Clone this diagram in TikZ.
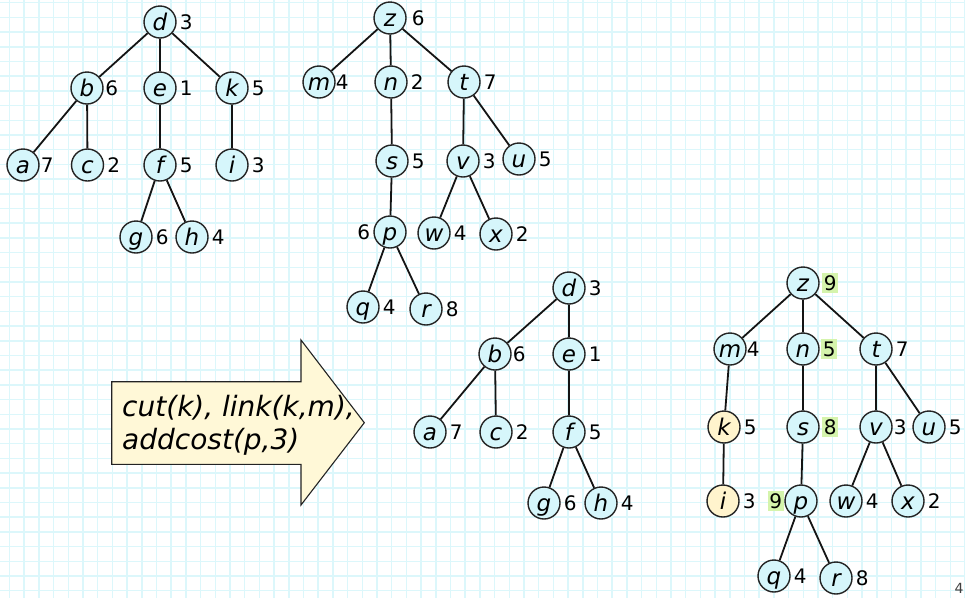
\documentclass[tikz,border=0pt]{standalone}
\usepackage{fontspec}
\setmainfont{DejaVu Sans}

\definecolor{gridcol}{RGB}{220,247,251}
\definecolor{nodefill}{RGB}{214,246,251}
\definecolor{nodeline}{RGB}{35,35,35}
\definecolor{nodeyellow}{RGB}{255,244,205}
\definecolor{arrowfill}{RGB}{255,248,215}
\definecolor{hlgreen}{RGB}{213,244,172}
\definecolor{edgecol}{RGB}{20,20,20}

\tikzset{
  vert/.style={circle, draw=nodeline, line width=1.4pt, fill=nodefill,
    minimum size=32pt, inner sep=0pt,
    font=\fontsize{23}{23}\selectfont\itshape,
    text height=17pt, text depth=0pt},
  yvert/.style={vert, fill=nodeyellow},
  treeline/.style={line width=1.8pt, draw=edgecol},
  gridline/.style={line width=1.5pt, draw=gridcol},
  every label/.style={font=\fontsize{20}{20}\selectfont, inner sep=0pt, text=black},
  label distance=3pt,
  hl/.style={fill=hlgreen, inner xsep=1.5pt, inner ysep=2.5pt},
  cmdtext/.style={anchor=base west, inner sep=0pt,
    font=\fontsize{28}{34}\selectfont\itshape},
}

\begin{document}
\begin{tikzpicture}[x=1pt, y=-1pt]
  \useasboundingbox (0,0) rectangle (965,598);
  \fill[white] (0,0) rectangle (965,598);

  % squared paper
  \foreach \i in {0,...,65}
    \draw[gridline] ({9.5+14.7*\i},0) -- ({9.5+14.7*\i},598);
  \foreach \j in {0,...,40}
    \draw[gridline] (0,{2.7+14.7*\j}) -- (965,{2.7+14.7*\j});

  % first tree (rooted at d)
  \node[vert, label={right:3}] (Ad) at (160,22) {d};
  \node[vert, label={[label distance=1.5pt]right:6}] (Ab) at (87,88) {b};
  \node[vert, label={right:1}] (Ae) at (160,88) {e};
  \node[vert, label={right:5}] (Ak) at (232,88) {k};
  \node[vert, label={[label distance=1pt]right:7}] (Aa) at (23,165) {a};
  \node[vert, label={right:2}] (Ac) at (87.5,165) {c};
  \node[vert, label={right:5}] (Af) at (160,165) {f};
  \node[vert, label={right:3}] (Ai) at (232,165) {i};
  \node[vert, label={right:6}] (Ag) at (136,237) {g};
  \node[vert, label={right:4}] (Ah) at (192,237) {h};
  \draw[treeline] (Ad) -- (Ab) (Ad) -- (Ae) (Ad) -- (Ak)
                  (Ab) -- (Aa) (Ab) -- (Ac) (Ae) -- (Af)
                  (Af) -- (Ag) (Af) -- (Ah) (Ak) -- (Ai);

  % second tree (rooted at z)
  \node[vert, label={[label distance=5pt]right:6}] (Bz) at (390,18) {z};
  \node[vert, label={[label distance=0pt]right:4}] (Bm) at (319,82) {m};
  \node[vert, label={right:2}] (Bn) at (391,82) {n};
  \node[vert, label={right:7}] (Bt) at (464,82) {t};
  \node[vert, label={right:5}] (Bs) at (392,161) {s};
  \node[vert, label={right:3}] (Bv) at (463,161) {v};
  \node[vert, label={right:5}] (Bu) at (519,159) {u};
  \node[vert, label={left:6}] (Bp) at (390,232) {p};
  \node[vert, label={right:4}] (Bw) at (434,233) {w};
  \node[vert, label={right:2}] (Bx) at (496,234) {x};
  \node[vert, label={right:4}] (Bq) at (363,307) {q};
  \node[vert, label={right:8}] (Br) at (426,309) {r};
  \draw[treeline] (Bz) -- (Bm) (Bz) -- (Bn) (Bz) -- (Bt)
                  (Bn) -- (Bs) (Bs) -- (Bp) (Bp) -- (Bq) (Bp) -- (Br)
                  (Bt) -- (Bv) (Bt) -- (Bu) (Bv) -- (Bw) (Bv) -- (Bx);

  % operation arrow
  \draw[line width=1.1pt, draw=nodeline, fill=arrowfill, line join=miter]
    (111.7,381.7) -- (301,381.7) -- (301,340) -- (364.3,422.7)
    -- (301,505) -- (301,464.3) -- (111.7,464.3) -- cycle;
  \node[cmdtext] (cmdA) at (122,416) {cut(k), link(k,m),};
  \node[cmdtext] (cmdB) at (122,449) {addcost(p,3)};

  % third tree (d after the cut)
  \node[vert, label={right:3}] (Cd) at (569,288) {d};
  \node[vert, label={[label distance=1pt]right:6}] (Cb) at (495,354) {b};
  \node[vert, label={right:1}] (Ce) at (569,354) {e};
  \node[vert, label={right:7}] (Ca) at (430,432) {a};
  \node[vert, label={right:2}] (Cc) at (496,432) {c};
  \node[vert, label={right:5}] (Cf) at (569,432) {f};
  \node[vert, label={right:6}] (Cg) at (544,503) {g};
  \node[vert, label={right:4}] (Ch) at (601,503) {h};
  \draw[treeline] (Cd) -- (Cb) (Cd) -- (Ce) (Cb) -- (Ca) (Cb) -- (Cc)
                  (Ce) -- (Cf) (Cf) -- (Cg) (Cf) -- (Ch);

  % fourth tree (z after link and addcost)
  \node[vert, label={[hl, label distance=2.5pt]right:9}] (Dz) at (803,283) {z};
  \node[vert, label={[label distance=0pt]right:4}] (Dm) at (730,349) {m};
  \node[vert, label={[hl, label distance=1.5pt]right:5}] (Dn) at (803,349) {n};
  \node[vert, label={right:7}] (Dt) at (876,349) {t};
  \node[yvert, label={right:5}] (Dk) at (724,427) {k};
  \node[vert, label={[hl, label distance=2.5pt]right:8}] (Ds) at (803,427) {s};
  \node[vert, label={[label distance=1pt]right:3}] (Dv) at (876,427) {v};
  \node[vert, label={right:5}] (Du) at (929,427) {u};
  \node[yvert, label={right:3}] (Di) at (723,501) {i};
  \node[vert, label={[hl, label distance=0.5pt]left:9}] (Dp) at (801,501) {p};
  \node[vert, label={right:4}] (Dw) at (846,501) {w};
  \node[vert, label={right:2}] (Dx) at (908,501) {x};
  \node[vert, label={right:4}] (Dq) at (774,576) {q};
  \node[vert, label={right:8}] (Dr) at (836,578) {r};
  \draw[treeline] (Dz) -- (Dm) (Dz) -- (Dn) (Dz) -- (Dt)
                  (Dm) -- (Dk) (Dk) -- (Di)
                  (Dn) -- (Ds) (Ds) -- (Dp) (Dp) -- (Dq) (Dp) -- (Dr)
                  (Dt) -- (Dv) (Dt) -- (Du) (Dv) -- (Dw) (Dv) -- (Dx);

  % page number
  \node[font=\fontsize{14}{14}\selectfont, text=black!75, inner sep=0pt]
    (pagenum) at (959,588) {4};
\end{tikzpicture}
\end{document}
